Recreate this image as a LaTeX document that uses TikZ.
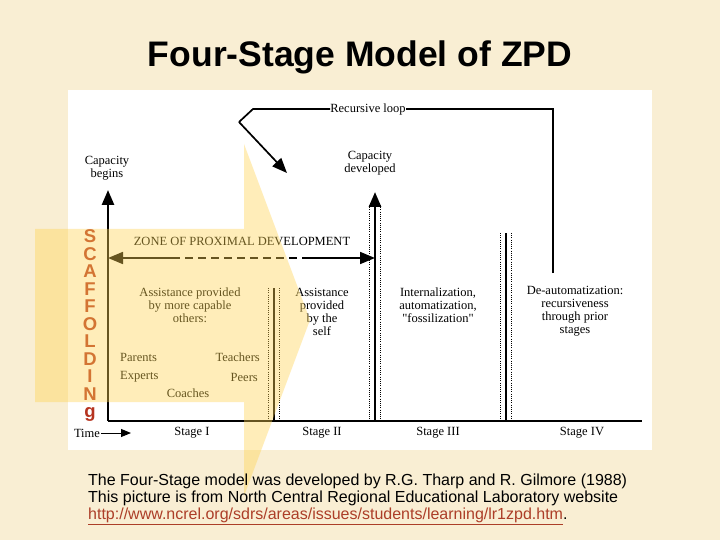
\documentclass[tikz,border=0pt]{standalone}
\usepackage{fontspec}
\setmainfont{Liberation Serif}
\newfontfamily\sansfont{Liberation Sans}
\usetikzlibrary{arrows.meta}
\definecolor{pagebg}{RGB}{249,238,211}
\definecolor{scafred}{RGB}{182,52,32}
\definecolor{linkred}{RGB}{172,62,40}
\definecolor{arrowyellow}{RGB}{255,212,80}
\tikzset{
  txt/.style={inner sep=1pt,align=center,font=\fontsize{12.5}{13}\selectfont},
  scaf/.style={inner sep=0pt,text height=12pt,text depth=1pt,text=scafred,font=\sansfont\bfseries\fontsize{18.5}{18}\selectfont},
  axis/.style={line width=2.5pt},
  bar/.style={line width=2.7pt},
  dots/.style={line width=0.8pt,dash pattern=on 0.8pt off 1.4pt},
  bighead/.style={-{Triangle[length=15pt,width=12pt]}},
}
\begin{document}
\begin{tikzpicture}[x=1pt,y=-1pt,line join=miter]
  \useasboundingbox (0,0) rectangle (720,540);
  \fill[pagebg] (0,0) rectangle (720,540);
  \fill[white] (68,90) rectangle (652,450);
  \node[font=\sansfont\bfseries\fontsize{35.5}{40}\selectfont] (title) at (360,57) {Four-Stage Model of ZPD};
  % axes
  \coordinate (origin) at (108,421);
  \coordinate (ytop) at (108,190);
  \coordinate (xend) at (642,421);
  \draw[axis,bighead] (origin) -- (ytop);
  \draw[axis] (origin) -- (xend);
  \node[txt] (capbegin) at (107,168.5) {Capacity\\begins};
  \node[txt] (capdev) at (370,163.5) {Capacity\\developed};
  % stage borders
  \coordinate (b1top) at (274,288);
  \coordinate (b1bot) at (274,421);
  \coordinate (b2top) at (375,192);
  \coordinate (b2bot) at (375,421);
  \coordinate (b3top) at (506,233);
  \coordinate (b3bot) at (506,421);
  \draw[bar] (b1bot) -- (b1top);
  \draw[bar,bighead] (b2bot) -- (b2top);
  \draw[bar] (b3bot) -- (b3top);
  \foreach \bx/\btop in {274/288, 375/205, 506/233} {
    \draw[dots] (\bx-5.5,\btop) -- (\bx-5.5,419);
    \draw[dots] (\bx+5.5,\btop) -- (\bx+5.5,419);
  }
  % recursive loop
  \node[txt,fill=white,inner xsep=0pt] (loop) at (368,109) {Recursive loop};
  \coordinate (loopdown) at (553,273);
  \coordinate (loopcorner) at (553,109);
  \coordinate (loopbend) at (253,109);
  \coordinate (looppoint) at (239,122);
  \coordinate (looptip) at (287,173);
  \draw[line width=2.7pt] (loopdown) -- (loopcorner) -- (loop.east);
  \draw[line width=1.7pt] (loop.west) -- (loopbend) -- (looppoint);
  \draw[line width=1.7pt,bighead] (looppoint) -- (looptip);
  % zone of proximal development
  \node[txt] (zpd) at (242,241) {ZONE OF PROXIMAL DEVELOPMENT};
  \coordinate (zpdleft) at (108,258);
  \coordinate (zpddash) at (172,258);
  \coordinate (zpdsolid) at (305,258);
  \coordinate (zpdright) at (375,258);
  \draw[line width=1.7pt,{Triangle[length=15pt,width=12pt]}-] (zpdleft) -- (zpddash);
  \draw[line width=1.7pt,dash pattern=on 8pt off 5pt] (zpddash) -- (zpdsolid);
  \draw[line width=1.7pt,bighead] (zpdsolid) -- (zpdright);
  % stage texts
  \node[txt] (others) at (190,305) {Assistance provided\\by more capable\\others:};
  \node[txt] (self) at (322,311.5) {Assistance\\provided\\by the\\self};
  \node[txt] (intern) at (438,305) {Internalization,\\automatization,\\\textquotedbl fossilization\textquotedbl};
  \node[txt] (deauto) at (575,311.5) {De-automatization:\\recursiveness\\through prior\\stages};
  \node[txt,anchor=west] (parents) at (119,357) {Parents};
  \node[txt,anchor=east] (teachers) at (261,357) {Teachers};
  \node[txt,anchor=west] (experts) at (119,377) {Experts};
  \node[txt,anchor=east] (peers) at (259,377) {Peers};
  \node[txt] (coaches) at (188,393) {Coaches};
  % time line
  \node[txt] (time) at (87,433) {Time};
  \coordinate (timetip) at (131,433);
  \draw[line width=1pt,-{Triangle[length=10pt,width=8pt]}] (time.east) -- (timetip);
  \node[txt] (stage1) at (192,433) {Stage I};
  \node[txt] (stage2) at (322,433) {Stage II};
  \node[txt] (stage3) at (438,433) {Stage III};
  \node[txt] (stage4) at (582,433) {Stage IV};
  % scaffolding
  \foreach \ch [count=\i from 0] in {S,C,A,F,F,O,L,D,I,N,g}
    \node[scaf] (scaf\i) at (90,{237+17.5*\i}) {\ch};
  % big yellow arrow
  \fill[arrowyellow,fill opacity=0.4] (35,229) -- (244,229) -- (244,144) -- (310,320)
    -- (244,496) -- (244,402) -- (35,402) -- cycle;
  % source
  \node[anchor=base west,inner sep=0pt,font=\sansfont\fontsize{16}{18}\selectfont] (src1) at (88,485)
    {The Four-Stage model was developed by R.G. Tharp and R. Gilmore (1988)};
  \node[anchor=base west,inner sep=0pt,font=\sansfont\fontsize{16}{18}\selectfont] (src2) at (88,502)
    {This picture is from North Central Regional Educational Laboratory website};
  \node[anchor=base west,inner sep=0pt,font=\sansfont\fontsize{16}{18}\selectfont] (src3) at (88,519)
    {{\color{linkred}\underline{http://www.ncrel.org/sdrs/areas/issues/students/learning/lr1zpd.htm}}.};
\end{tikzpicture}
\end{document}
